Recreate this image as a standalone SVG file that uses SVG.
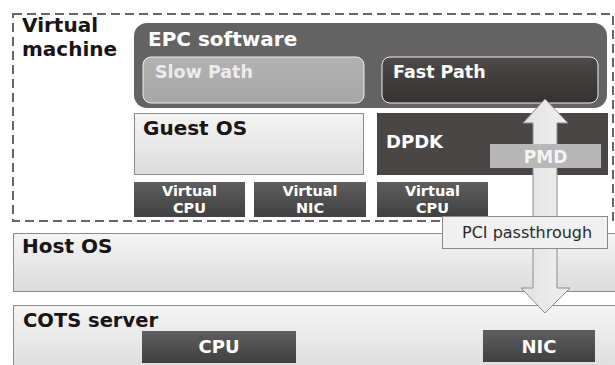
<svg xmlns="http://www.w3.org/2000/svg" width="615" height="365" viewBox="0 0 615 365">
  <defs>
    <linearGradient id="light" x1="0" y1="0" x2="0" y2="1">
      <stop offset="0" stop-color="#f4f4f4"/>
      <stop offset="1" stop-color="#dcdcdc"/>
    </linearGradient>
    <linearGradient id="dark" x1="0" y1="0" x2="0" y2="1">
      <stop offset="0" stop-color="#5e5e5e"/>
      <stop offset="1" stop-color="#404040"/>
    </linearGradient>
    <linearGradient id="fast" x1="0" y1="0" x2="0" y2="1">
      <stop offset="0" stop-color="#4e4949"/>
      <stop offset="1" stop-color="#363131"/>
    </linearGradient>
    <linearGradient id="slow" x1="0" y1="0" x2="0" y2="1">
      <stop offset="0" stop-color="#b2b2b2"/>
      <stop offset="1" stop-color="#a6a6a6"/>
    </linearGradient>
    <linearGradient id="arrowFill" x1="0" y1="0" x2="1" y2="0">
      <stop offset="0" stop-color="#e2e2e2"/>
      <stop offset="1" stop-color="#f0f0f0"/>
    </linearGradient>
  </defs>
  <style>
    text { font-family: "DejaVu Sans", Verdana, sans-serif; font-weight: bold; }
    .blk { fill: #1a1414; }
    .wht { fill: #ffffff; }
    .lightbox { fill: url(#light); stroke: #8a8a8a; stroke-width: 1; }
    .darkbox { fill: url(#dark); }
    .vm { fill: none; stroke: #666666; stroke-width: 2; stroke-dasharray: 9 5; }
    .small { font-size: 14.5px; }
  </style>

  <!-- virtual machine boundary -->
  <g id="vm">
    <rect class="vm" x="13" y="14" width="600" height="207"/>
    <text class="blk" x="22" y="32" font-size="20">Virtual</text>
    <text class="blk" x="22" y="56" font-size="20">machine</text>
  </g>

  <g id="epc">
    <rect x="134" y="23" width="473" height="85" rx="13" fill="#636363"/>
    <text class="wht" x="148" y="46" font-size="20">EPC software</text>
  </g>
  <g id="slow-path">
    <rect x="143" y="57" width="221" height="46" rx="8" fill="url(#slow)" stroke="#eeeeee" stroke-width="1"/>
    <text x="155" y="78" font-size="17.5" fill="#ececec">Slow Path</text>
  </g>
  <g id="fast-path">
    <rect x="382" y="57" width="216" height="46" rx="8" fill="url(#fast)" stroke="#eeeeee" stroke-width="1"/>
    <text class="wht" x="393" y="78" font-size="17.5">Fast Path</text>
  </g>

  <g id="guest-os">
    <rect class="lightbox" x="134.5" y="113.5" width="229" height="61"/>
    <text class="blk" x="143" y="135" font-size="20">Guest OS</text>
  </g>
  <g id="dpdk">
    <rect x="377" y="113" width="231" height="62" fill="#4a4646"/>
    <text class="wht" x="386" y="148" font-size="18">DPDK</text>
  </g>

  <g id="vcpu1">
    <rect class="darkbox" x="134" y="182" width="111" height="35"/>
    <text class="wht small" text-anchor="middle" x="189.5" y="196">Virtual</text>
    <text class="wht small" text-anchor="middle" x="189.5" y="213">CPU</text>
  </g>
  <g id="vnic">
    <rect class="darkbox" x="254" y="182" width="112" height="35"/>
    <text class="wht small" text-anchor="middle" x="310" y="196">Virtual</text>
    <text class="wht small" text-anchor="middle" x="310" y="213">NIC</text>
  </g>
  <g id="vcpu2">
    <rect class="darkbox" x="377" y="182" width="111" height="35"/>
    <text class="wht small" text-anchor="middle" x="432.5" y="196">Virtual</text>
    <text class="wht small" text-anchor="middle" x="432.5" y="213">CPU</text>
  </g>

  <g id="host-os">
    <rect class="lightbox" x="13.5" y="233.5" width="610" height="58"/>
    <text class="blk" x="22" y="253" font-size="20">Host OS</text>
  </g>
  <g id="cots">
    <rect class="lightbox" x="13.5" y="305.5" width="610" height="70"/>
    <text class="blk" x="23" y="327" font-size="19.5">COTS server</text>
  </g>
  <g id="cpu">
    <rect class="darkbox" x="142" y="331" width="154" height="32"/>
    <text class="wht" text-anchor="middle" x="219" y="353" font-size="18">CPU</text>
  </g>
  <g id="nic">
    <rect class="darkbox" x="483" y="330" width="112" height="32"/>
    <text class="wht" text-anchor="middle" x="539" y="353" font-size="18">NIC</text>
  </g>

  <!-- connectors -->
  <g id="connectors">
    <path d="M545 99 L568 123 L557 123 L557 288 L570 288 L545 313 L521 288 L533 288 L533 123 L523 123 Z"
          fill="url(#arrowFill)" stroke="#8c8c8c" stroke-width="1"/>
  </g>

  <g id="pmd">
    <rect x="490" y="144" width="111" height="24" fill="#b7b7b7"/>
    <text text-anchor="middle" x="545.5" y="163" font-size="17" fill="#f4f4f4">PMD</text>
  </g>

  <g id="pci-label">
    <rect x="442.5" y="216.5" width="165" height="32" fill="#f0f0f0" stroke="#8a8a8a" stroke-width="1"/>
    <text x="462" y="238" font-size="16" fill="#2a2a2a" style="font-weight:normal">PCI passthrough</text>
  </g>
</svg>
